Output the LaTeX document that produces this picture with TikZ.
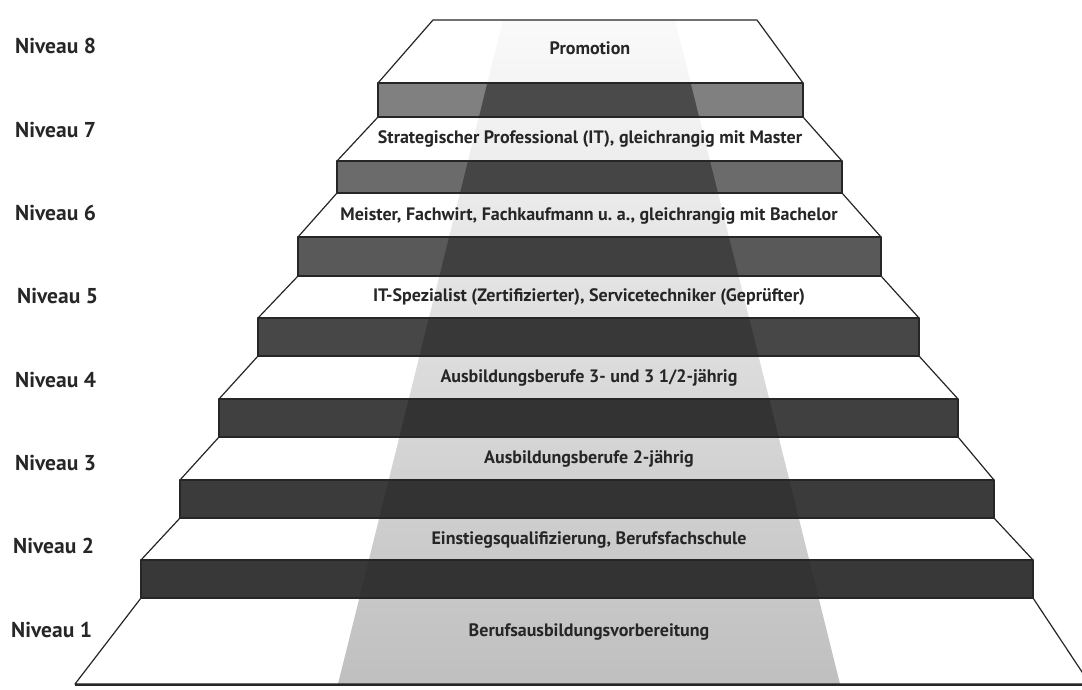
\documentclass[tikz,border=0pt]{standalone}
\usepackage{fontspec}
\setmainfont{PT Sans}
\usepackage{tikz}

\tikzset{
  edge/.style={draw=black!85, line width=1.2pt, line join=round},
  level/.style={anchor=west, inner sep=0pt, text=black!85,
    font=\bfseries\fontsize{21.5}{26}\selectfont},
  steptext/.style={inner sep=0pt, text=black!85,
    font=\bfseries\fontsize{18}{21}\selectfont},
}

\begin{document}
\begin{tikzpicture}[x=1pt,y=-1pt]

\clip (0,0) rectangle (1082,689) ;
\fill [white] (0,0) rectangle (1082,689) ;

\shade [top color=black!2, middle color=black!19, bottom color=black!25]
  (503,20) -- (675,20) -- (840,684) -- (338,684) -- cycle ;

\fill [black!50] (378,83) rectangle (803,117) ;
\fill [black!58] (337,161) rectangle (842,193) ;
\fill [black!65] (298,237) rectangle (881,276) ;
\fill [black!72] (258,318) rectangle (919,356) ;
\fill [black!75] (219,399) rectangle (958,437) ;
\fill [black!77] (180,480) rectangle (994,518) ;
\fill [black!78] (141,560) rectangle (1033,598) ;

\begin{scope}
\clip (503,20) -- (675,20) -- (840,684) -- (338,684) -- cycle ;
\fill [black!71] (378,83) rectangle (803,117) ;
\fill [black!73] (337,161) rectangle (842,193) ;
\fill [black!75] (298,237) rectangle (881,276) ;
\fill [black!78] (258,318) rectangle (919,356) ;
\fill [black!80] (219,399) rectangle (958,437) ;
\fill [black!80] (180,480) rectangle (994,518) ;
\fill [black!80] (141,560) rectangle (1033,598) ;
\end{scope}

\draw [edge] (433,20) -- (757,20) -- (803,83) -- (378,83) -- cycle ;
\draw [edge] (378,117) -- (803,117) -- (842,161) -- (337,161) -- cycle ;
\draw [edge] (337,193) -- (842,193) -- (881,237) -- (298,237) -- cycle ;
\draw [edge] (298,276) -- (881,276) -- (919,318) -- (258,318) -- cycle ;
\draw [edge] (258,356) -- (919,356) -- (958,399) -- (219,399) -- cycle ;
\draw [edge] (219,437) -- (958,437) -- (994,480) -- (180,480) -- cycle ;
\draw [edge] (180,518) -- (994,518) -- (1033,560) -- (141,560) -- cycle ;
\draw [edge] (141,598) -- (1033,598) -- (1090,684) -- (75,684) -- cycle ;

\draw [edge] (378,83) rectangle (803,117) ;
\draw [edge] (337,161) rectangle (842,193) ;
\draw [edge] (298,237) rectangle (881,276) ;
\draw [edge] (258,318) rectangle (919,356) ;
\draw [edge] (219,399) rectangle (958,437) ;
\draw [edge] (180,480) rectangle (994,518) ;
\draw [edge] (141,560) rectangle (1033,598) ;
\draw [edge, line width=2pt] (75,685) -- (1082,685) ;

\node [steptext] (promotion) at (590,48) {Promotion} ;
\node [steptext] (professional) at (590,139) {Strategischer Professional (IT), gleichrangig mit Master} ;
\node [steptext] (meister) at (589,216) {Meister, Fachwirt, Fachkaufmann u.\ a., gleichrangig mit Bachelor} ;
\node [steptext] (spezialist) at (589,297) {IT-Spezialist (Zertifizierter), Servicetechniker (Geprüfter)} ;
\node [steptext] (dreijaehrig) at (589,378) {Ausbildungsberufe 3- und 3 1/2-jährig} ;
\node [steptext] (zweijaehrig) at (589,459) {Ausbildungsberufe 2-jährig} ;
\node [steptext] (einstieg) at (589,540) {Einstiegsqualifizierung, Berufsfachschule} ;
\node [steptext] (vorbereitung) at (589,632) {Berufsausbildungsvorbereitung} ;

\node [level] (niveau8) at (15,46) {Niveau 8} ;
\node [level] (niveau7) at (15,130) {Niveau 7} ;
\node [level] (niveau6) at (15,213) {Niveau 6} ;
\node [level] (niveau5) at (17,296) {Niveau 5} ;
\node [level] (niveau4) at (15,380) {Niveau 4} ;
\node [level] (niveau3) at (15,463) {Niveau 3} ;
\node [level] (niveau2) at (13,546) {Niveau 2} ;
\node [level] (niveau1) at (11,630) {Niveau 1} ;

\end{tikzpicture}
\end{document}
